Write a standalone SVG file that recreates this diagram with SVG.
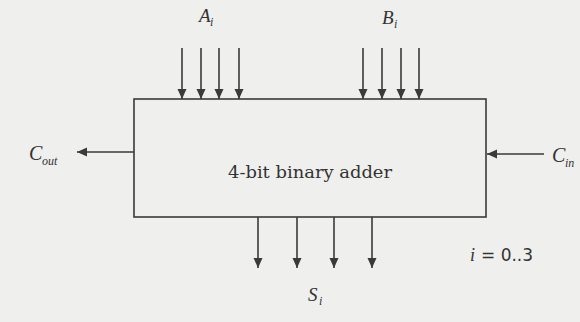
<svg xmlns="http://www.w3.org/2000/svg" width="580" height="322" viewBox="0 0 580 322">
<style>
.ln{stroke:#3a3a3a;stroke-width:1.6;fill:none}
.it{font-family:"Liberation Serif","Times New Roman",serif;font-style:italic;fill:#333}
.sub{font-family:"Liberation Serif","Times New Roman",serif;font-style:italic;fill:#333;font-size:12px}
.lbl{font-family:"DejaVu Serif","Liberation Serif",serif;fill:#333;font-size:17px}
</style>
<defs>
<marker id="ah" viewBox="0 0 10 10" refX="10" refY="5" markerWidth="10" markerHeight="10" markerUnits="userSpaceOnUse" orient="auto">
<path d="M0,0.5 L10,5 L0,9.5 Z" fill="#3a3a3a"/>
</marker>
</defs>
<rect width="580" height="322" fill="#efefed"/>
<g id="adder">
<rect x="134" y="99" width="352" height="118" class="ln"/>
<text x="310" y="178" class="lbl" text-anchor="middle" textLength="164" lengthAdjust="spacingAndGlyphs">4-bit binary adder</text>
</g>
<g id="connectors">
<line x1="182" y1="48" x2="182" y2="99" class="ln" marker-end="url(#ah)"/>
<line x1="201" y1="48" x2="201" y2="99" class="ln" marker-end="url(#ah)"/>
<line x1="219" y1="48" x2="219" y2="99" class="ln" marker-end="url(#ah)"/>
<line x1="239" y1="48" x2="239" y2="99" class="ln" marker-end="url(#ah)"/>
<line x1="363" y1="48" x2="363" y2="99" class="ln" marker-end="url(#ah)"/>
<line x1="382" y1="48" x2="382" y2="99" class="ln" marker-end="url(#ah)"/>
<line x1="401" y1="48" x2="401" y2="99" class="ln" marker-end="url(#ah)"/>
<line x1="419" y1="48" x2="419" y2="99" class="ln" marker-end="url(#ah)"/>
<line x1="258" y1="217" x2="258" y2="268" class="ln" marker-end="url(#ah)"/>
<line x1="297" y1="217" x2="297" y2="268" class="ln" marker-end="url(#ah)"/>
<line x1="334" y1="217" x2="334" y2="268" class="ln" marker-end="url(#ah)"/>
<line x1="372" y1="217" x2="372" y2="268" class="ln" marker-end="url(#ah)"/>
<line x1="134" y1="152" x2="77" y2="152" class="ln" marker-end="url(#ah)"/>
<line x1="544" y1="154" x2="487" y2="154" class="ln" marker-end="url(#ah)"/>
</g>
<g id="labels">
<text x="199" y="22" class="it" font-size="19">A</text><text x="210" y="26" class="sub">i</text>
<text x="382" y="24" class="it" font-size="19">B</text><text x="394" y="28" class="sub">i</text>
<text x="308" y="301" class="it" font-size="19">S</text><text x="319" y="305" class="sub">i</text>
<text x="29" y="160" class="it" font-size="20">C</text><text x="42" y="165" class="sub" font-size="13">out</text>
<text x="552" y="162" class="it" font-size="20">C</text><text x="565" y="167" class="sub" font-size="13">in</text>
<text x="470" y="261" class="it" font-size="18">i</text>
<text x="481" y="261" font-family="DejaVu Sans,Liberation Sans,sans-serif" font-size="17" fill="#333">= 0..3</text>
</g>
</svg>
